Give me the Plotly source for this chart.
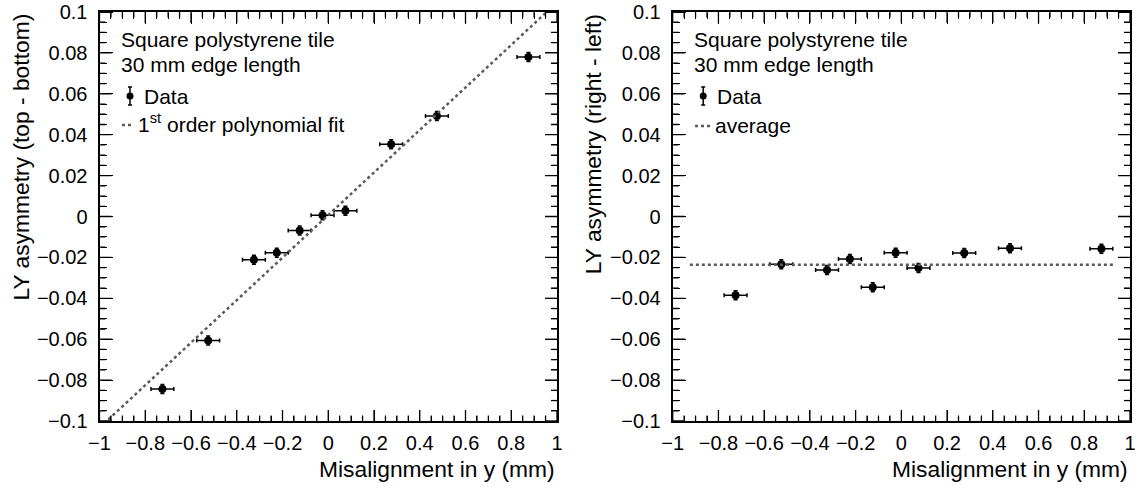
import numpy as np
import plotly.graph_objects as go

# ---------------- data ----------------
x_mis = [-0.725, -0.525, -0.325, -0.225, -0.125, -0.025, 0.075, 0.275, 0.475, 0.875]
x_err = [0.05] * 10

# left: LY asymmetry (top - bottom)
y_tb = [-0.0844, -0.0606, -0.0211, -0.0177, -0.0068, 0.0006, 0.0028, 0.0353, 0.0491, 0.0780]
y_tb_err = [0.0022] * 10
fit_slope = 0.104
fit_intercept = 0.0007

# right: LY asymmetry (right - left)
y_rl = [-0.0385, -0.0233, -0.0262, -0.0208, -0.0346, -0.0177, -0.0252, -0.0179, -0.0155, -0.0158]
y_rl_err = [0.0022] * 10
avg_x_range = [-0.925, 0.925]

x_range = [-1, 1]
y_range = [-0.1, 0.1]
x_major, x_minor = 0.2, 0.05
y_major, y_minor = 0.02, 0.005

# ---------------- layout helpers ----------------
W, H = 1139, 488
FONT = "Liberation Sans, Arial, Helvetica, sans-serif"
GRAY = "#5a5a5a"


def px(x):
    return x / W


def py(y):
    return (H - y) / H


FR_TOP, FR_BOT = 12, 421
frames = [(99.5, 557), (672.7, 1130)]
ydom = [py(FR_BOT), py(FR_TOP)]
plot_h = FR_BOT - FR_TOP
plot_w = frames[0][1] - frames[0][0]
x_per_px = (x_range[1] - x_range[0]) / plot_w
y_per_px = (y_range[1] - y_range[0]) / plot_h


def grid_vals(lo, hi, step):
    n = int(round((hi - lo) / step))
    return [lo + i * step for i in range(n + 1)]


def tick_traces(xa, ya):
    """Inward frame ticks on all four sides, as line traces in axis units."""
    tx, ty = [], []
    for v in grid_vals(x_range[0], x_range[1], x_minor):
        major = abs(v / x_major - round(v / x_major)) < 1e-6
        L = (11 if major else 5.5) * y_per_px
        tx += [v, v, None, v, v, None]
        ty += [y_range[0], y_range[0] + L, None, y_range[1], y_range[1] - L, None]
    sx, sy = [], []
    for v in grid_vals(y_range[0], y_range[1], y_minor):
        major = abs(v / y_major - round(v / y_major)) < 1e-6
        L = (12 if major else 6) * x_per_px
        sx += [x_range[0], x_range[0] + L, None, x_range[1], x_range[1] - L, None]
        sy += [v, v, None, v, v, None]
    return [go.Scatter(x=tx, y=ty, mode="lines", line=dict(color="black", width=1.3, simplify=False),
                       xaxis=xa, yaxis=ya, hoverinfo="skip", showlegend=False, cliponaxis=False),
            go.Scatter(x=sx, y=sy, mode="lines", line=dict(color="black", width=1.3, simplify=False),
                       xaxis=xa, yaxis=ya, hoverinfo="skip", showlegend=False, cliponaxis=False)]


fig = go.Figure()

# left panel
fig.add_trace(go.Scatter(
    x=x_mis, y=y_tb, mode="markers",
    marker=dict(color="black", size=8),
    error_x=dict(type="data", array=x_err, color="black", thickness=1.5, width=2),
    error_y=dict(type="data", array=y_tb_err, color="black", thickness=1.5, width=2),
    xaxis="x", yaxis="y", showlegend=False))
fx = np.array(x_range, dtype=float)
fig.add_trace(go.Scatter(
    x=fx, y=fit_slope * fx + fit_intercept, mode="lines",
    line=dict(color=GRAY, width=2.5, dash="dot"),
    xaxis="x", yaxis="y", showlegend=False))

# right panel
fig.add_trace(go.Scatter(
    x=x_mis, y=y_rl, mode="markers",
    marker=dict(color="black", size=8),
    error_x=dict(type="data", array=x_err, color="black", thickness=1.5, width=2),
    error_y=dict(type="data", array=y_rl_err, color="black", thickness=1.5, width=2),
    xaxis="x2", yaxis="y2", showlegend=False))
avg = float(np.mean(y_rl))
fig.add_trace(go.Scatter(
    x=avg_x_range, y=[avg, avg], mode="lines",
    line=dict(color=GRAY, width=2.5, dash="dot"),
    xaxis="x2", yaxis="y2", showlegend=False))

for t in tick_traces("x", "y") + tick_traces("x2", "y2"):
    fig.add_trace(t)

tickfont = dict(family=FONT, size=20, color="black")


def main_x(dom, anchor):
    return dict(domain=dom, anchor=anchor, range=x_range, dtick=x_major, tick0=0,
                ticks="outside", ticklen=3, tickcolor="rgba(0,0,0,0)", tickangle=0,
                showline=True, linecolor="black", linewidth=2, mirror=True, automargin=False,
                showgrid=False, zeroline=False, tickfont=tickfont)


def main_y(dom, anchor):
    return dict(domain=dom, anchor=anchor, range=y_range, dtick=y_major, tick0=0,
                ticks="outside", ticklen=6, tickcolor="rgba(0,0,0,0)",
                showline=True, linecolor="black", linewidth=2, mirror=True, automargin=False,
                showgrid=False, zeroline=False, tickfont=tickfont)


def tick_x(base, side, pos):
    # overlay axis whose "outside" ticks point into the frame
    return dict(overlaying=base, anchor="free", position=pos, side=side, range=x_range,
                dtick=x_major, tick0=0, ticks="outside", ticklen=11, tickwidth=1.3, tickcolor="black",
                minor=dict(ticks="outside", ticklen=5.5, dtick=x_minor, tick0=0, tickwidth=1.3,
                           tickcolor="black"),
                showticklabels=False, showline=False, showgrid=False, zeroline=False, automargin=False)


def tick_y(base, side, pos):
    return dict(overlaying=base, anchor="free", position=pos, side=side, range=y_range,
                dtick=y_major, tick0=0, ticks="outside", ticklen=12, tickwidth=1.3, tickcolor="black",
                minor=dict(ticks="outside", ticklen=6, dtick=y_minor, tick0=0, tickwidth=1.3,
                           tickcolor="black"),
                showticklabels=False, showline=False, showgrid=False, zeroline=False, automargin=False)


panels = [("x", "y", "x3", "x4", "y3", "y4", frames[0]),
          ("x2", "y2", "x5", "x6", "y5", "y6", frames[1])]
layout_axes = {}
for bx, by, xb, xt, yl, yr, (fl, fr) in panels:
    layout_axes["xaxis" + bx[1:]] = main_x([px(fl), px(fr)], by)
    layout_axes["yaxis" + by[1:]] = main_y(ydom, bx)
    layout_axes["xaxis" + xb[1:]] = tick_x(bx, "top", ydom[0])
    layout_axes["xaxis" + xt[1:]] = tick_x(bx, "bottom", ydom[1])
    layout_axes["yaxis" + yl[1:]] = tick_y(by, "right", px(fl))
    layout_axes["yaxis" + yr[1:]] = tick_y(by, "left", px(fr))
    # placeholder traces so the overlay tick axes belong to a subplot
    for xa, ya in [(xb, by), (xt, by), (bx, yl), (bx, yr)]:
        fig.add_trace(go.Scatter(x=[None], y=[None], mode="markers", xaxis=xa, yaxis=ya,
                                 hoverinfo="skip", showlegend=False))

annotations = []
shapes = []
TF = dict(family=FONT, size=22.8, color="black")
LF = dict(family=FONT, size=21, color="black")

for (frame_l, frame_r), ytitle in zip(frames, ["LY asymmetry (top - bottom)",
                                               "LY asymmetry (right - left)"]):
    annotations.append(dict(text="Misalignment in y (mm)", xref="paper", yref="paper",
                            x=px(frame_r), y=py(469), xanchor="right", yanchor="middle",
                            showarrow=False, font=TF))
    annotations.append(dict(text=ytitle, xref="paper", yref="paper", textangle=-90,
                            x=px(frame_l - 79.5), y=py(FR_TOP), xanchor="center", yanchor="top",
                            showarrow=False, font=TF))
    # legend texts
    annotations.append(dict(text="Square polystyrene tile", xref="paper", yref="paper",
                            x=px(frame_l + 19.5), y=py(40), xanchor="left", yanchor="middle",
                            showarrow=False, font=LF))
    annotations.append(dict(text="30 mm edge length", xref="paper", yref="paper",
                            x=px(frame_l + 19.5), y=py(64), xanchor="left", yanchor="middle",
                            showarrow=False, font=LF))
    annotations.append(dict(text="Data", xref="paper", yref="paper",
                            x=px(frame_l + 42), y=py(96), xanchor="left", yanchor="middle",
                            showarrow=False, font=LF))
    # Data legend symbol
    mx = frame_l + 30.5
    shapes.append(dict(type="line", xref="paper", yref="paper", x0=px(mx), x1=px(mx),
                       y0=py(87), y1=py(105), line=dict(color="black", width=1.5)))
    for cy in (87, 105):
        shapes.append(dict(type="line", xref="paper", yref="paper", x0=px(mx - 2), x1=px(mx + 2),
                           y0=py(cy), y1=py(cy), line=dict(color="black", width=1.5)))
    shapes.append(dict(type="circle", xref="paper", yref="paper",
                       x0=px(mx - 3.5), x1=px(mx + 3.5), y0=py(99.5), y1=py(92.5),
                       fillcolor="black", line=dict(color="black", width=0)))

# left fit legend
annotations.append(dict(text="1<sup>st</sup> order polynomial fit", xref="paper", yref="paper",
                        x=px(136), y=py(123), xanchor="left", yanchor="middle",
                        showarrow=False, font=LF))
shapes.append(dict(type="line", xref="paper", yref="paper", x0=px(122), x1=px(134),
                   y0=py(125), y1=py(125), line=dict(color=GRAY, width=2.5, dash="dot")))
# right average legend
annotations.append(dict(text="average", xref="paper", yref="paper",
                        x=px(713), y=py(125), xanchor="left", yanchor="middle",
                        showarrow=False, font=LF))
shapes.append(dict(type="line", xref="paper", yref="paper", x0=px(695), x1=px(710),
                   y0=py(126), y1=py(126), line=dict(color=GRAY, width=2.5, dash="dot")))

fig.update_layout(
    width=W, height=H,
    margin=dict(l=0, r=0, t=0, b=0),
    paper_bgcolor="white", plot_bgcolor="white",
    font=dict(family=FONT, color="black"),
    annotations=annotations, shapes=shapes,
    **layout_axes,
)

fig.write_html("out.html")
